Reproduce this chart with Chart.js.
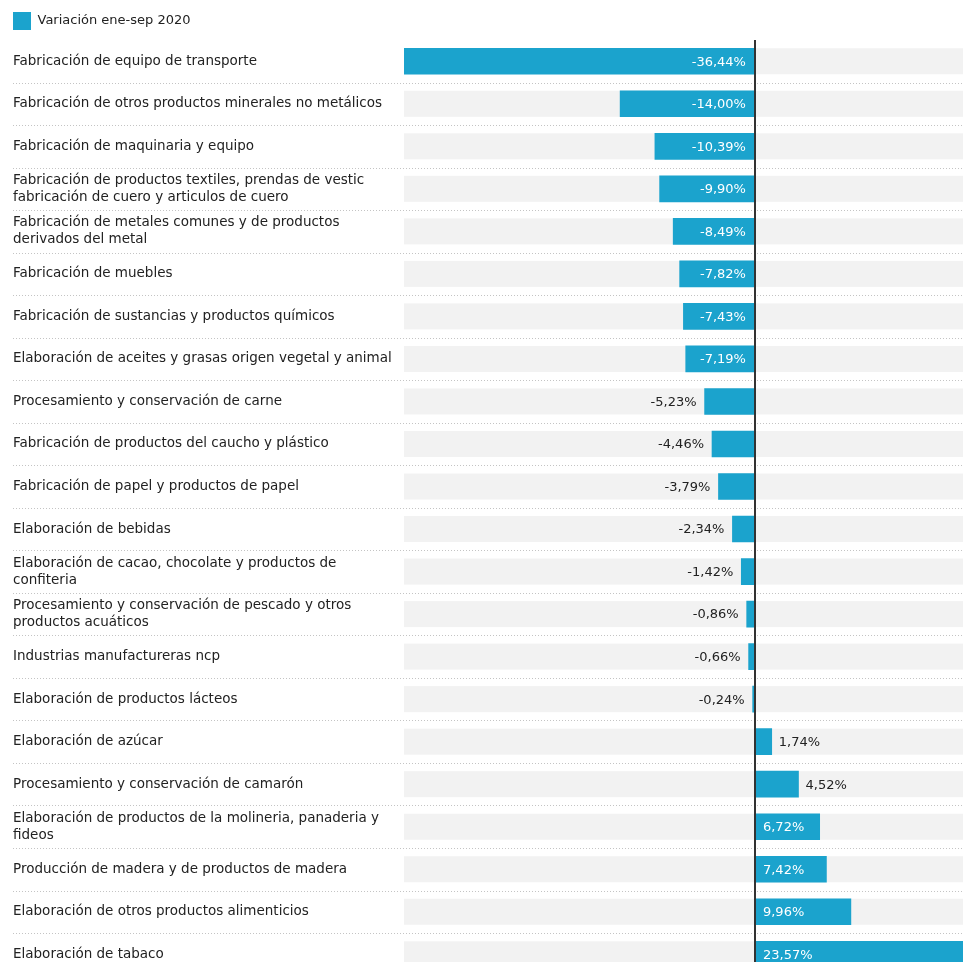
<!DOCTYPE html>
<html>
<head>
<meta charset="utf-8">
<script src="https://cdn.jsdelivr.net/npm/chart.js@4"></script>
<style>
  html, body { margin: 0; padding: 0; background: #fff; overflow: hidden; }
  #wrap { width: 963px; height: 987px; }
</style>
</head>
<body>
<div id="wrap"><canvas id="c" width="963" height="987"></canvas></div>
<script>
const seriesName = 'Variación ene-sep 2020';
const categories = [
  'Fabricación de equipo de transporte',
  'Fabricación de otros productos minerales no metálicos',
  'Fabricación de maquinaria y equipo',
  ['Fabricación de productos textiles, prendas de vestic', 'fabricación de cuero y articulos de cuero'],
  ['Fabricación de metales comunes y de productos', 'derivados del metal'],
  'Fabricación de muebles',
  'Fabricación de sustancias y productos químicos',
  'Elaboración de aceites y grasas origen vegetal y animal',
  'Procesamiento y conservación de carne',
  'Fabricación de productos del caucho y plástico',
  'Fabricación de papel y productos de papel',
  'Elaboración de bebidas',
  ['Elaboración de cacao, chocolate y productos de', 'confiteria'],
  ['Procesamiento y conservación de pescado y otros', 'productos acuáticos'],
  'Industrias manufactureras ncp',
  'Elaboración de productos lácteos',
  'Elaboración de azúcar',
  'Procesamiento y conservación de camarón',
  ['Elaboración de productos de la molineria, panaderia y', 'fideos'],
  'Producción de madera y de productos de madera',
  'Elaboración de otros productos alimenticios',
  'Elaboración de tabaco'
];
const values = [
  -36.44, -14.00, -10.39, -9.90, -8.49, -7.82, -7.43, -7.19, -5.23, -4.46, -3.79,
  -2.34, -1.42, -0.86, -0.66, -0.24, 1.74, 4.52, 6.72, 7.42, 9.96, 23.57
];

const FONT = '"DejaVu Sans", sans-serif';
const BLUE = '#1ba3cd';
const fmt = v => v.toFixed(2).replace('.', ',') + '%';

const rowsPlugin = {
  id: 'rows',
  beforeDatasetsDraw(chart) {
    const { ctx, chartArea, scales } = chart;
    const y = scales.y;
    const W = chart.width;
    ctx.save();
    ctx.fillStyle = '#f2f2f2';
    for (let i = 0; i < categories.length; i++) {
      const py = y.getPixelForTick(i);
      ctx.fillRect(chartArea.left, py - 13, W - chartArea.left, 26);
    }
    ctx.strokeStyle = '#c4c4c4';
    ctx.lineWidth = 1;
    ctx.setLineDash([1, 2]);
    for (let i = 0; i < categories.length - 1; i++) {
      const py = Math.round((y.getPixelForTick(i) + y.getPixelForTick(i + 1)) / 2) + 0.5;
      ctx.beginPath();
      ctx.moveTo(13, py);
      ctx.lineTo(W, py);
      ctx.stroke();
    }
    ctx.restore();
  },
  afterDatasetsDraw(chart) {
    const { ctx } = chart;
    const meta = chart.getDatasetMeta(0);
    ctx.save();
    ctx.font = '13px ' + FONT;
    ctx.textBaseline = 'middle';
    meta.data.forEach((bar, i) => {
      const v = values[i];
      const txt = fmt(v);
      const tw = ctx.measureText(txt).width;
      const bw = Math.abs(bar.x - bar.base);
      const inside = bw > tw + 12;
      if (v < 0) {
        ctx.textAlign = 'right';
        if (inside) { ctx.fillStyle = '#ffffff'; ctx.fillText(txt, bar.base - 8, bar.y + 1); }
        else { ctx.fillStyle = '#222'; ctx.fillText(txt, bar.x - 8, bar.y + 1); }
      } else {
        ctx.textAlign = 'left';
        if (inside) { ctx.fillStyle = '#ffffff'; ctx.fillText(txt, bar.base + 7, bar.y + 1); }
        else { ctx.fillStyle = '#222'; ctx.fillText(txt, bar.x + 7, bar.y + 1); }
      }
    });
    ctx.restore();
  }
};

new Chart(document.getElementById('c'), {
  type: 'bar',
  data: {
    labels: categories,
    datasets: [{
      label: seriesName,
      data: values,
      backgroundColor: BLUE,
      borderWidth: 0,
      barThickness: 26
    }]
  },
  options: {
    indexAxis: 'y',
    responsive: false,
    animation: false,
    events: [],
    layout: { padding: { left: 13, right: 0, top: 12, bottom: 0 } },
    plugins: {
      tooltip: { enabled: false },
      legend: {
        position: 'top',
        align: 'start',
        labels: {
          boxWidth: 18,
          boxHeight: 18,
          padding: 0,
          color: '#222',
          font: { family: FONT, size: 13 }
        }
      }
    },
    scales: {
      x: {
        type: 'linear',
        min: -36.44,
        max: 21.6,
        ticks: { display: false, stepSize: 10 },
        border: { display: false },
        grid: {
          z: 1,
          drawTicks: false,
          lineWidth: 2,
          color: c => (c.tick && c.tick.value === 0) ? '#333' : 'rgba(0,0,0,0)'
        }
      },
      y: {
        type: 'category',
        offset: true,
        border: { display: false },
        grid: { display: false, drawTicks: false },
        afterFit(scale) { scale.width = 391; },
        ticks: {
          crossAlign: 'far',
          autoSkip: false,
          color: '#222',
          font: { family: FONT, size: 13.5, lineHeight: 1.25 }
        }
      }
    }
  },
  plugins: [rowsPlugin]
});
</script>
</body>
</html>
